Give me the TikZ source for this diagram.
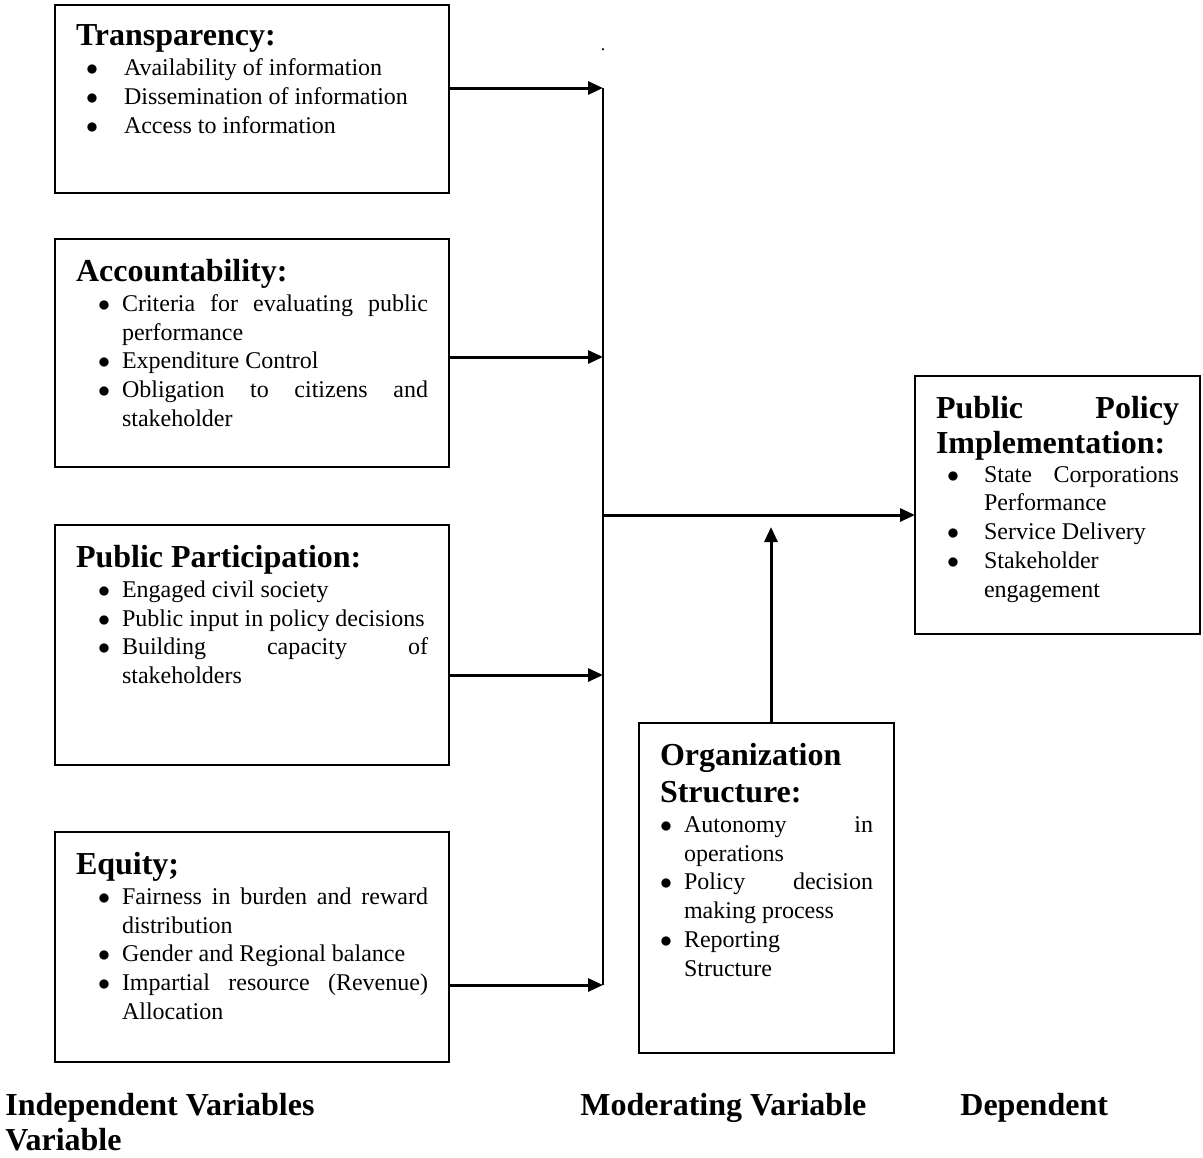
\documentclass[tikz,border=0pt]{standalone}
\usepackage{fontspec}
\setmainfont{Liberation Serif}
\usetikzlibrary{arrows.meta}
\usetikzlibrary{calc}
\usetikzlibrary{positioning}

\newlength{\itind}
\newcommand{\itm}[1]{\par\hangindent=\itind\hangafter=1\noindent\makebox[\itind][l]{\hspace*{#1}$\bullet$}\ignorespaces}
\newcommand{\boxtitle}[1]{{\fontsize{16}{18.5}\selectfont\bfseries #1\par}\vspace{0.6pt}}
\newcommand{\boxbody}[3]{\parbox[c][#1][t]{#2}{\fontsize{12}{14.4}\selectfont #3}}

\begin{document}
\begin{tikzpicture}[x=0.5pt,y=-0.5pt,
  varbox/.style={draw, line width=1pt, rectangle, inner xsep=10.5pt, inner ysep=10pt, outer sep=0pt, anchor=north west},
  conn/.style={line width=1.5pt, -{Triangle[length=7.5pt,width=6.5pt]}},
  bus/.style={line width=1.2pt},
  varlabel/.style={font=\fontsize{16}{18.5}\selectfont\bfseries, inner sep=0pt, anchor=base west}]
  \useasboundingbox (0,0) rectangle (1203,1157);

        \node[varbox] (trans) at (55,5) {\boxbody{74pt}{176pt}{\setlength{\itind}{24pt}\boxtitle{Transparency:}
            \itm{5pt}Availability of information
            \itm{5pt}Dissemination of information
            \itm{5pt}Access to information}};
        \node[varbox, below=23pt of trans] (acc) {\boxbody{94pt}{176pt}{\setlength{\itind}{23pt}\boxtitle{Accountability:}
            \itm{11pt}Criteria for evaluating public\linebreak performance
            \itm{11pt}Expenditure Control
            \itm{11pt}Obligation to citizens and\linebreak stakeholder}};
        \node[varbox, below=29pt of acc] (pp) {\boxbody{100pt}{176pt}{\setlength{\itind}{23pt}\boxtitle{Public Participation:}
            \itm{11pt}Engaged civil society
            \itm{11pt}Public input in policy decisions
            \itm{11pt}Building capacity of\linebreak stakeholders}};
        \node[varbox, below=33.5pt of pp] (eq) {\boxbody{95pt}{176pt}{\setlength{\itind}{23pt}\boxtitle{Equity;}
            \itm{11pt}Fairness in burden and reward\linebreak distribution
            \itm{11pt}Gender and Regional balance
            \itm{11pt}Impartial resource (Revenue)\linebreak Allocation}};

        \node[varbox] (ppi) at (915,376) {\boxbody{109pt}{121.5pt}{\setlength{\itind}{24pt}{\fontsize{16}{17.5}\selectfont\bfseries Public Policy\linebreak Implementation:\par}
            \itm{5.5pt}State Corporations\linebreak Performance
            \itm{5.5pt}Service Delivery
            \itm{5.5pt}Stakeholder\newline engagement}};
        \node[varbox] (org) at (639,723) {\boxbody{145pt}{106.5pt}{\setlength{\itind}{12pt}\boxtitle{Organization\newline Structure:}
            \itm{0pt}Autonomy in\linebreak operations
            \itm{0pt}Policy decision\linebreak making process
            \itm{0pt}Reporting\newline Structure}};

        \node[inner sep=0pt, font=\small] (dot) at (603,50) {.};

        % joining line
        \coordinate (b1) at (603,88);
        \coordinate (b2) at (603,357);
        \coordinate (b3) at (603,675);
        \coordinate (b4) at (603,985);
        \coordinate (hub) at (603,515);
        \coordinate (modtip) at (771,527);

        \draw[conn] (trans.east |- b1) -- (b1);
        \draw[conn] (acc.east |- b2) -- (b2);
        \draw[conn] (pp.east |- b3) -- (b3);
        \draw[conn] (eq.east |- b4) -- (b4);
        \draw[bus] (b1) -- (b4);
        \draw[conn] (hub) -- (ppi.west |- hub);
        \draw[conn] (org.north -| modtip) -- (modtip);

        \node[varlabel] (indep) at (5,1115) {Independent Variables};
        \node[varlabel] (indepvar) at (5,1150) {Variable};
        \node[varlabel] (moder) at (580,1115) {Moderating Variable};
        \node[varlabel] (depend) at (960,1115) {Dependent};
\end{tikzpicture}
\end{document}
